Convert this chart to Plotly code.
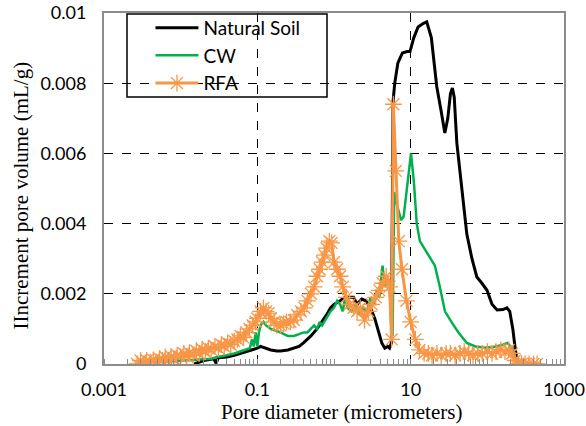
import plotly.graph_objects as go

# Natural Soil
ns_x = [0.015, 0.02, 0.027, 0.029, 0.031, 0.04, 0.05, 0.06, 0.07, 0.08, 0.09, 0.1, 0.11, 0.13, 0.15, 0.18, 0.2,
        0.25, 0.3, 0.35, 0.4, 0.5, 0.6, 0.7, 0.8, 0.9, 1.0, 1.2, 1.4, 1.6, 1.8, 2.0, 2.3, 2.6, 3.0, 3.4, 3.8,
        4.2, 4.6, 5.0, 5.3, 5.6, 5.9, 6.2, 6.8, 7.8, 9.0, 9.8, 11, 12.5, 14.5, 16.2, 18.6, 21.9, 25, 27.9,
        30.5, 33, 35, 37, 40, 46, 54, 63, 73, 85, 99, 115, 134, 160, 180, 196, 215, 232, 250]
ns_y = [0.0, 0.0001, 0.00015, 0.00002, 0.00018, 0.0002, 0.00025, 0.0003, 0.00033, 0.00037, 0.0004, 0.00045,
        0.0005, 0.00045, 0.0004, 0.00037, 0.00037, 0.0004, 0.00045, 0.0005, 0.0006, 0.0008, 0.001, 0.0012,
        0.0014, 0.0016, 0.0017, 0.0018, 0.0019, 0.0019, 0.0019, 0.0017, 0.00185, 0.0018, 0.0016, 0.0013,
        0.0009, 0.0006, 0.00045, 0.0005, 0.00045, 0.0006, 0.0075, 0.0080, 0.00857, 0.00886, 0.0089, 0.0089,
        0.0093, 0.0096, 0.0097, 0.00975, 0.0093, 0.0079, 0.0072, 0.00658, 0.0070, 0.0077, 0.00786, 0.0076,
        0.0063, 0.005, 0.0037, 0.003, 0.00248, 0.0023, 0.0021, 0.0017, 0.00154, 0.00155, 0.0016, 0.0015,
        0.001, 0.0004, 0.0]

# CW
cw_x = [0.005, 0.008, 0.012, 0.016, 0.02, 0.025, 0.03, 0.035, 0.04, 0.05, 0.06, 0.07, 0.08, 0.085, 0.09,
        0.095, 0.1, 0.105, 0.11, 0.12, 0.13, 0.15, 0.18, 0.2, 0.25, 0.3, 0.35, 0.4, 0.45, 0.5, 0.55, 0.6,
        0.65, 0.7, 0.8, 0.9, 1.0, 1.1, 1.2, 1.3, 1.4, 1.5, 1.7, 1.9, 2.1, 2.4, 2.7, 3.0, 3.3, 3.6, 3.9,
        4.3, 4.6, 5.0, 5.3, 5.6, 5.8, 6.1, 6.5, 7.0, 7.5, 8.1, 9.0, 10.1, 11, 12, 13.2, 15, 17, 20.7, 24,
        28, 34, 42, 54, 70, 95, 130, 160, 183, 210, 230, 250]
cw_y = [0.00005, 0.00008, 0.0001, 0.00012, 0.00012, 0.00015, 0.0002, 0.00022, 0.00025, 0.0003, 0.00035,
        0.0004, 0.00045, 0.0007, 0.0005, 0.0009, 0.0005, 0.0009, 0.0011, 0.0012, 0.0011, 0.001, 0.00095,
        0.0009, 0.0008, 0.0008, 0.00085, 0.0009, 0.0009, 0.001, 0.0011, 0.001, 0.0012, 0.0011, 0.0013,
        0.0015, 0.0016, 0.0018, 0.0017, 0.0015, 0.0019, 0.0016, 0.0015, 0.0017, 0.0014, 0.0016, 0.0015,
        0.0019, 0.0017, 0.0021, 0.0019, 0.0028, 0.0022, 0.0024, 0.0023, 0.001, 0.0008, 0.0049, 0.0046,
        0.0043, 0.0041, 0.0042, 0.005, 0.006, 0.0052, 0.004, 0.0035, 0.0033, 0.0031, 0.0028, 0.0022,
        0.0015, 0.0012, 0.0009, 0.0006, 0.0005, 0.00046, 0.0005, 0.00055, 0.0006, 0.00045, 0.0002, 0.0001]

# RFA
rfa_x = [0.0027, 0.003, 0.0033, 0.0036, 0.004, 0.0044, 0.0048, 0.0053, 0.0058, 0.0063, 0.0069, 0.0075,
         0.0082, 0.009, 0.01, 0.011, 0.012, 0.013, 0.0145, 0.016, 0.0175, 0.019, 0.021, 0.023, 0.025,
         0.028, 0.031, 0.034, 0.037, 0.041, 0.045, 0.05, 0.055, 0.06, 0.066, 0.072, 0.079, 0.087, 0.095,
         0.1, 0.11, 0.12, 0.13, 0.14, 0.15, 0.165, 0.18, 0.2, 0.22, 0.24, 0.27, 0.3, 0.33, 0.37, 0.41,
         0.45, 0.5, 0.55, 0.6, 0.65, 0.7, 0.75, 0.8, 0.87, 0.93, 1.0, 1.1, 1.2, 1.3, 1.45, 1.6, 1.8, 2.0,
         2.2, 2.5, 2.8, 3.1, 3.5, 3.9, 4.3, 4.8, 5.3, 5.65, 5.95, 6.4, 7.0, 7.7, 8.8, 10, 11.5, 13, 15,
         17, 19, 22, 25, 29, 33, 38, 44, 50, 57, 65, 75, 86, 100, 115, 130, 150, 170, 190, 210, 230, 250,
         280, 310, 350, 400, 445]
rfa_y = [0.0, 0.0001, 0.0, 0.0001, 0.00005, 0.00012, 0.00005, 0.00015, 0.0001, 0.0002, 0.0001, 0.00022,
         0.00015, 0.00025, 0.0002, 0.0003, 0.00022, 0.00032, 0.00025, 0.00038, 0.0003, 0.00042, 0.00035,
         0.00045, 0.0004, 0.0005, 0.00045, 0.00055, 0.0005, 0.0006, 0.00055, 0.00065, 0.0007, 0.0008,
         0.00075, 0.0009, 0.001, 0.0011, 0.0012, 0.0013, 0.0015, 0.0016, 0.0015, 0.00145, 0.0013, 0.0012,
         0.0011, 0.0011, 0.00115, 0.0012, 0.0012, 0.00125, 0.0014, 0.0015, 0.0016, 0.0018, 0.002, 0.0022,
         0.0025, 0.0027, 0.0029, 0.0031, 0.0033, 0.0035, 0.00345, 0.0029, 0.0027, 0.0025, 0.0022, 0.0019,
         0.0017, 0.0016, 0.0015, 0.0016, 0.00125, 0.0015, 0.0017, 0.0019, 0.0021, 0.0023, 0.0025, 0.0022,
         0.0007, 0.0074, 0.0055, 0.0035, 0.0027, 0.0018, 0.0012, 0.0007, 0.0004, 0.0003, 0.0003, 0.00025,
         0.0003, 0.00025, 0.0003, 0.0003, 0.00025, 0.0003, 0.00035, 0.0003, 0.00025, 0.0003, 0.0003,
         0.00035, 0.0003, 0.00035, 0.0004, 0.00035, 0.0004, 0.0003, 0.0001, 0.0, 0.0, 0.0, 0.0, 0.0, 0.0]

x_tickvals = [0.001, 0.1, 10, 1000]
x_ticktext = ["0.001", "0.1", "10", "1000"]
y_tickvals = [0, 0.002, 0.004, 0.006, 0.008, 0.01]
y_ticktext = ["0", "0.002", "0.004", "0.006", "0.008", "0.01"]

minor_vals = [m * 10 ** e for e in range(-3, 3) for m in range(1, 10)]

fig = go.Figure()
fig.add_trace(go.Scatter(x=ns_x, y=ns_y, mode="lines", name="Natural Soil",
                         line=dict(color="black", width=3), legendgroup="a"))
fig.add_trace(go.Scatter(x=cw_x, y=cw_y, mode="lines", name="CW",
                         line=dict(color="#00B050", width=2.5), legendgroup="b"))
fig.add_trace(go.Scatter(x=rfa_x, y=rfa_y, mode="lines+markers", name="RFA",
                         line=dict(color="#F79646", width=3), legendgroup="c",
                         marker=dict(symbol="asterisk-open", size=14, color="#F79646",
                                     line=dict(color="#F79646", width=1.3))))

fig.update_layout(
    width=586, height=426,
    margin=dict(l=104, r=22, t=13, b=62, autoexpand=False),
    paper_bgcolor="white", plot_bgcolor="white",
    font=dict(family="Lato", size=18, color="black"),
    showlegend=True,
    legend=dict(x=0.101, y=1.012, xanchor="left", yanchor="top",
                bgcolor="rgba(0,0,0,0)", borderwidth=0, itemwidth=43,
                tracegroupgap=0, font=dict(family="Lato", size=19)),
    shapes=[dict(type="rect", xref="paper", yref="paper",
                 x0=(127 - 104) / 460, x1=(327 - 104) / 460,
                 y0=(364 - 97) / 351, y1=(364 - 14) / 351,
                 line=dict(color="black", width=1.5), layer="above")],
    annotations=[
        dict(text="Pore diameter (micrometers)", xref="paper", yref="paper",
             x=0.5, y=0, xanchor="center", yanchor="middle", xshift=7, yshift=-48,
             showarrow=False, font=dict(family="Liberation Serif", size=21)),
        dict(text="IIncrement pore volume (mL/g)", xref="paper", yref="paper",
             x=0, y=0.5, xanchor="center", yanchor="middle", xshift=-84, yshift=-7,
             textangle=-90, showarrow=False, font=dict(family="Liberation Serif", size=21)),
    ],
)
fig.update_xaxes(type="log", range=[-3, 3], tickvals=x_tickvals, ticktext=x_ticktext,
                 automargin=False, ticklabelstandoff=8, mirror=True,
                 showgrid=True, gridcolor="black", griddash="dash", gridwidth=1,
                 showline=True, linecolor="#8c8c8c", linewidth=2, ticks="",
                 zeroline=False,
                 minor=dict(tickvals=minor_vals, ticks="inside", ticklen=5, tickcolor="#8c8c8c",
                            tickwidth=1, showgrid=False))
fig.update_yaxes(range=[0, 0.01], tickvals=y_tickvals, ticktext=y_ticktext,
                 automargin=False, ticklabelstandoff=12, mirror=True,
                 showgrid=True, gridcolor="black", griddash="dash", gridwidth=1,
                 showline=True, linecolor="#8c8c8c", linewidth=2, ticks="",
                 zeroline=False)

fig.write_html("out.html", config={"displayModeBar": False},
               post_script="document.body.style.margin='0';")
